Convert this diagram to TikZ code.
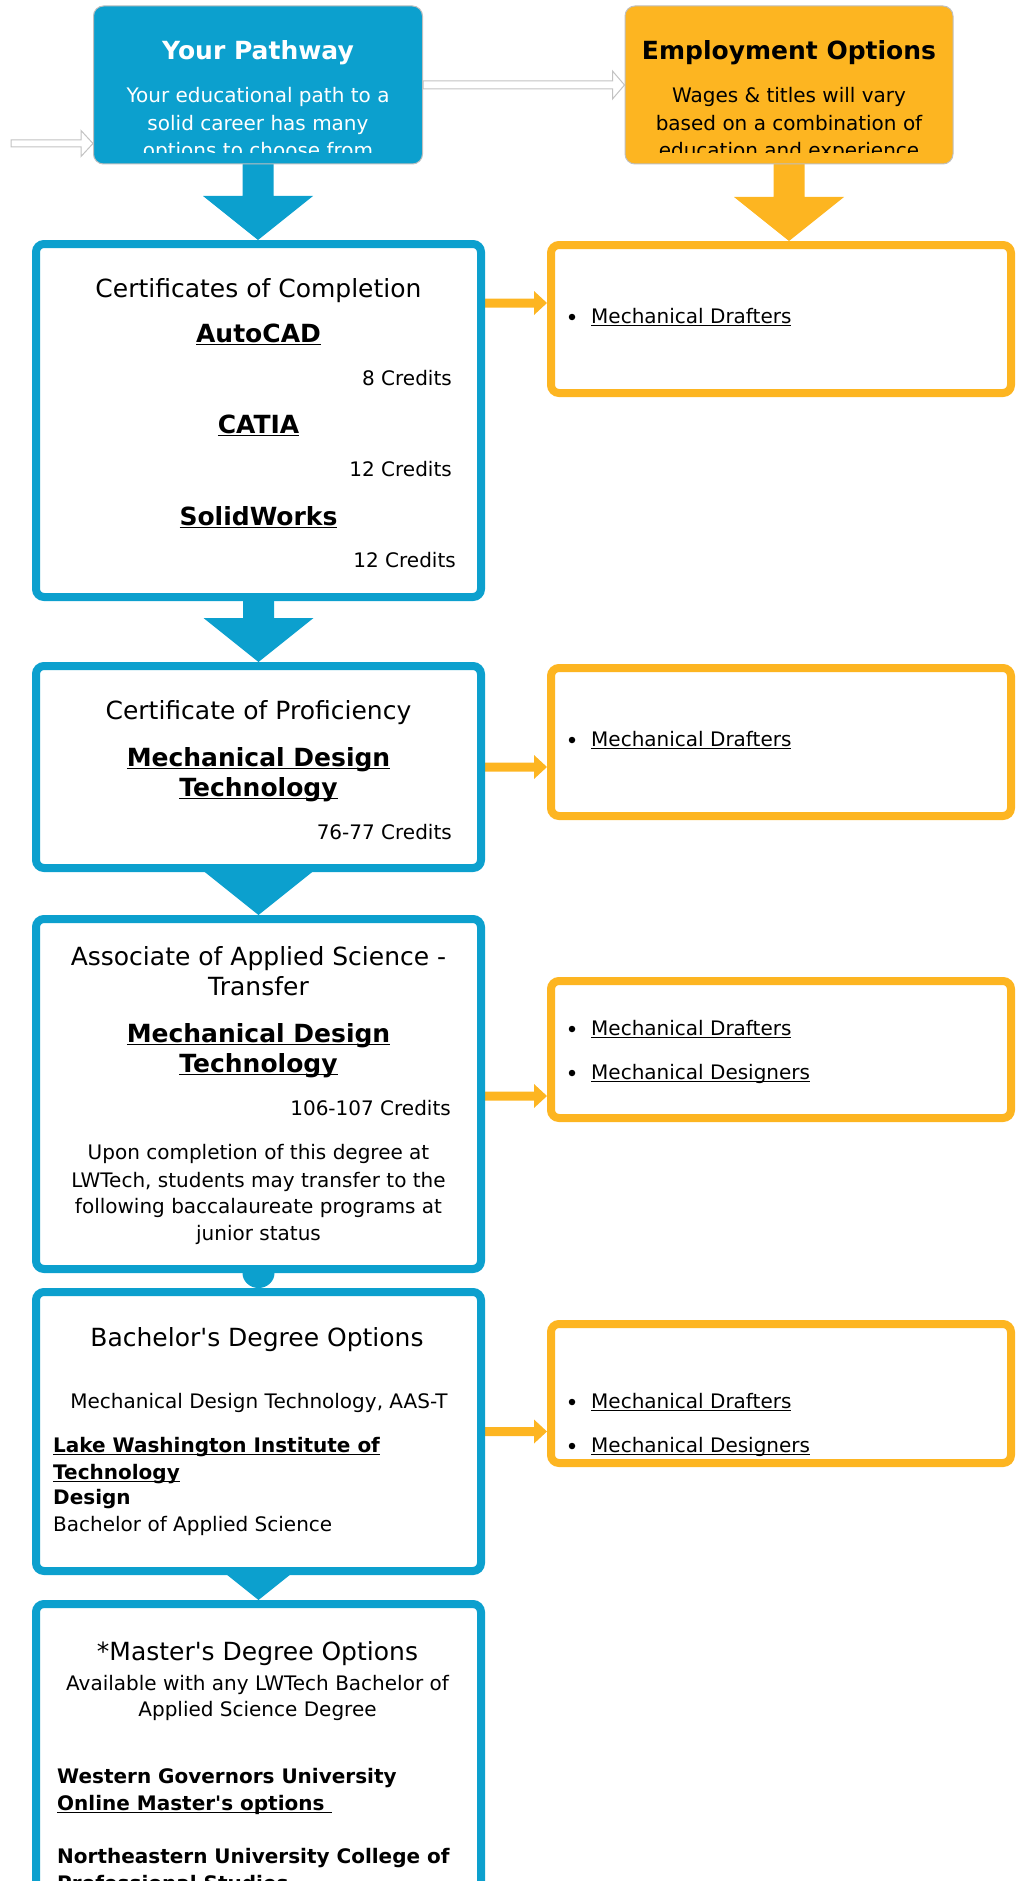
\documentclass[tikz,border=0pt]{standalone}
\usepackage{fontspec}
\setmainfont{DejaVu Sans}
\newsavebox\myulbox
\newcommand\myul[1]{\sbox\myulbox{#1}\rlap{\rule[-3.4pt]{\wd\myulbox}{1.8pt}}\usebox\myulbox}
\usetikzlibrary{calc,backgrounds}
\definecolor{pblue}{RGB}{12,160,206}
\definecolor{porange}{RGB}{253,181,33}
\definecolor{hollowgray}{RGB}{195,195,195}
\tikzset{
  bluebox/.style={draw=pblue, line width=8pt, fill=white, rounded corners=8pt, minimum width=445pt, inner sep=0pt},
  orangebox/.style={draw=porange, line width=8pt, fill=white, rounded corners=8pt, minimum width=460pt, inner sep=0pt},
  topbox/.style={draw=black!25, line width=1pt, rounded corners=10pt, minimum height=158pt, inner sep=0pt},
  hdrtext/.style={inner sep=0pt, anchor=base, font=\fontsize{25}{30}\selectfont},
  ttltext/.style={inner sep=0pt, anchor=base, font=\fontsize{25}{30}\selectfont\bfseries},
  bodytext/.style={inner sep=0pt, anchor=base, font=\fontsize{20}{27}\selectfont},
  boldtext/.style={inner sep=0pt, anchor=base west, font=\fontsize{20}{27}\selectfont\bfseries},
  rtext/.style={bodytext, anchor=base east},
  ltext/.style={bodytext, anchor=base west},
  bulletdot/.style={circle, fill=black, inner sep=0pt, minimum size=6.5pt},
}
\newcommand\pathdownarrow[3]{%
  \fill[#3] ($(#1)+(-15.5,-10)$) |- ($(#2)+(-55,-44)$) -- (#2) -- ($(#2)+(55,-44)$) -| ($(#1)+(15.5,-10)$) -- cycle;}
\newcommand\pathsidearrow[2]{%
  \fill[porange] ($(#1)+(-4,-4.5)$) -- ($(#2)+(-13,-4.5)$) -- ($(#2)+(-13,-12)$) -- (#2) -- ($(#2)+(-13,12)$) -- ($(#2)+(-13,4.5)$) -- ($(#1)+(-4,4.5)$) -- cycle;}
\newcommand\pathhollowarrow[4]{%
  \filldraw[fill=white, draw=hollowgray, line width=1pt] ($(#1)+(0,-#3)$) -- ($(#2)+(-12,-#3)$) -- ($(#2)+(-12,-#4)$) -- (#2) -- ($(#2)+(-12,#4)$) -- ($(#2)+(-12,#3)$) -- ($(#1)+(0,#3)$) -- cycle;}
\begin{document}
\begin{tikzpicture}[x=1pt,y=-1pt]
\useasboundingbox (0,0) rectangle (1022,1881);
% top boxes
\node[topbox, fill=pblue, minimum width=329pt] (yp) at (258,85) {};
\node[topbox, fill=porange, minimum width=328pt] (eo) at (789,85) {};
% pathway boxes
\node[bluebox, minimum height=353pt] (b1) at (258.5,420.5) {};
\node[bluebox, minimum height=202pt] (b2) at (258.5,767) {};
\node[bluebox, minimum height=350pt] (b3) at (258.5,1094) {};
\node[bluebox, minimum height=279pt] (b4) at (258.5,1431.5) {};
\node[bluebox, minimum height=296pt] (b5) at (258.5,1752) {};
% employment boxes
\node[orangebox, minimum height=148pt] (e1) at (781,319) {};
\node[orangebox, minimum height=148pt] (e2) at (781,742) {};
\node[orangebox, minimum height=137pt] (e3) at (781,1049.5) {};
\node[orangebox, minimum height=139pt] (e4) at (781,1393.5) {};
% connectors
\begin{pgfonlayer}{background}
\coordinate (lstart) at (11,143.5);
\pathhollowarrow{lstart}{yp.west |- lstart}{3.5}{13}
\pathhollowarrow{yp.east}{eo.west}{4}{14}
\pathdownarrow{yp.south}{yp.south |- b1.north}{pblue}
\pathdownarrow{eo.south}{eo.south |- e1.north}{porange}
\pathdownarrow{b1.south}{b2.north}{pblue}
\pathdownarrow{b2.south}{b3.north}{pblue}
\fill[pblue] ($(b3.south)+(-16,-6)$) -- ($(b3.south)+(-16,0)$) arc[start angle=180, end angle=0, x radius=16, y radius=15] -- ($(b3.south)+(16,-6)$) -- cycle;
\pathdownarrow{b4.south}{b5.north}{pblue}
\coordinate (s1) at ($(b1.east)+(0,-117.5)$);
\pathsidearrow{s1}{e1.west |- s1}
\pathsidearrow{b2.east}{e2.west |- b2.east}
\coordinate (s3) at ($(b3.east)+(0,2)$);
\pathsidearrow{s3}{e3.west |- s3}
\pathsidearrow{b4.east}{e4.west |- b4.east}
\end{pgfonlayer}
% top texts (clipped)
\begin{scope}
\clip (0,0) rectangle (1022,153);
\node[ttltext, text=white] (ypt) at (258,60) {Your Pathway};
\node[bodytext, text=white] (yp1) at (258,103) {Your educational path to a};
\node[bodytext, text=white] (yp2) at (258,131) {solid career has many};
\node[bodytext, text=white] (yp3) at (258,158) {options to choose from};
\node[ttltext] (eot) at (789,60) {Employment Options};
\node[bodytext] (eo1) at (789,103) {Wages \& titles will vary};
\node[bodytext] (eo2) at (789,131) {based on a combination of};
\node[bodytext] (eo3) at (789,158) {education and experience};
\end{scope}
% box 1
\node[hdrtext] (h1) at (258.5,297) {Certificates of Completion};
\node[ttltext] (c1a) at (258.5,342) {\myul{AutoCAD}};
\node[rtext] (c1b) at (452,385) {8 Credits};
\node[ttltext] (c1c) at (258.5,433) {\myul{CATIA}};
\node[rtext] (c1d) at (452,476) {12 Credits};
\node[ttltext] (c1e) at (258.5,525) {\myul{SolidWorks}};
\node[rtext] (c1f) at (456,567) {12 Credits};
% box 2
\node[hdrtext] (h2) at (258.5,719) {Certificate of Proficiency};
\node[ttltext] (c2a) at (258.5,766) {\myul{Mechanical Design}};
\node[ttltext] (c2b) at (258.5,796) {\myul{Technology}};
\node[rtext] (c2c) at (452,839) {76-77 Credits};
% box 3
\node[hdrtext] (h3a) at (258.5,965) {Associate of Applied Science -};
\node[hdrtext] (h3b) at (258.5,995) {Transfer};
\node[ttltext] (c3a) at (258.5,1042) {\myul{Mechanical Design}};
\node[ttltext] (c3b) at (258.5,1072) {\myul{Technology}};
\node[rtext] (c3c) at (451,1115) {106-107 Credits};
\node[bodytext] (p3a) at (258.5,1159) {Upon completion of this degree at};
\node[bodytext] (p3b) at (258.5,1187) {LWTech, students may transfer to the};
\node[bodytext] (p3c) at (258.5,1213) {following baccalaureate programs at};
\node[bodytext] (p3d) at (258.5,1240) {junior status};
% box 4
\node[hdrtext] (h4) at (257,1346) {Bachelor\textquotesingle s Degree Options};
\node[bodytext] (c4a) at (259,1408) {Mechanical Design Technology, AAS-T};
\node[boldtext] (c4b) at (53,1452) {\myul{Lake Washington Institute of}};
\node[boldtext] (c4c) at (53,1479) {\myul{Technology}};
\node[boldtext] (c4d) at (53,1504) {Design};
\node[ltext] (c4e) at (53,1531) {Bachelor of Applied Science};
% box 5
\node[hdrtext] (h5) at (257.5,1660) {*Master\textquotesingle s Degree Options};
\node[bodytext] (c5a) at (257.5,1690) {Available with any LWTech Bachelor of};
\node[bodytext] (c5b) at (257.5,1716) {Applied Science Degree};
\node[boldtext] (c5c) at (57,1783) {Western Governors University};
\node[boldtext] (c5d) at (57,1810) {\myul{Online Master\textquotesingle s options\ }};
\node[boldtext] (c5e) at (57,1863) {Northeastern University College of};
\node[boldtext] (c5f) at (57,1890) {Professional Studies};
% employment lists
\node[bulletdot] (d1) at (572,317) {};
\node[ltext] (m1) at (591,323) {\myul{Mechanical Drafters}};
\node[bulletdot] (d2) at (572,740) {};
\node[ltext] (m2) at (591,746) {\myul{Mechanical Drafters}};
\node[bulletdot] (d3) at (572,1029) {};
\node[ltext] (m3) at (591,1035) {\myul{Mechanical Drafters}};
\node[bulletdot] (d4) at (572,1073) {};
\node[ltext] (m4) at (591,1079) {\myul{Mechanical Designers}};
\node[bulletdot] (d5) at (572,1402) {};
\node[ltext] (m5) at (591,1408) {\myul{Mechanical Drafters}};
\node[bulletdot] (d6) at (572,1446) {};
\node[ltext] (m6) at (591,1452) {\myul{Mechanical Designers}};
\end{tikzpicture}
\end{document}
